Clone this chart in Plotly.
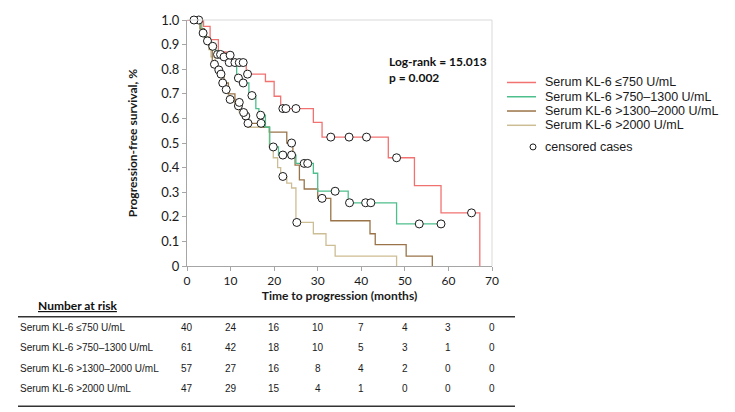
import plotly.graph_objects as go

# ---------------- data ----------------
groups = ["Serum KL-6 ≤750 U/mL", "Serum KL-6 >750–1300 U/mL",
          "Serum KL-6 >1300–2000 U/mL", "Serum KL-6 >2000 U/mL"]
colors = ["#f27272", "#4dbf8c", "#9a7448", "#cdbd94"]

x_ticks = [0, 10, 20, 30, 40, 50, 60, 70]
y_ticks = [0, 0.1, 0.2, 0.3, 0.4, 0.5, 0.6, 0.7, 0.8, 0.9, 1.0]
y_tick_labels = ["0", "0.1", "0.2", "0.3", "0.4", "0.5", "0.6", "0.7", "0.8", "0.9", "1.0"]

# KL-6 <=750
red_t = [0, 3.8, 5.3, 7.2, 9.0, 10.4, 13.6, 18.0, 20.0, 21.5, 29.0, 31.0, 46.2, 52.2, 58.3, 67.2]
red_s = [1.0, 0.974, 0.92, 0.87, 0.857, 0.827, 0.78, 0.75, 0.69, 0.64, 0.584, 0.524, 0.44, 0.327, 0.216, 0.0]
red_cens = [1.6, 9.9, 11.0, 12.0, 12.9, 13.9, 22.0, 22.7, 25.0, 33.0, 37.2, 41.2, 48.1, 65.3]
red_end = 67.2

# KL-6 >750-1300
green_t = [0, 3.4, 4.4, 5.5, 6.6, 8.2, 9.2, 11.4, 12.4, 14.2, 15.8, 16.5, 18.0, 19.0, 21.0, 25.0, 29.0, 30.0, 37.0, 48.1]
green_s = [1.0, 0.947, 0.915, 0.893, 0.86, 0.85, 0.827, 0.764, 0.744, 0.693, 0.64, 0.613, 0.564, 0.484, 0.451, 0.417, 0.377, 0.304, 0.257, 0.171]
green_cens = [2.7, 3.7, 4.7, 5.9, 7.0, 7.7, 8.5, 9.7, 11.8, 12.9, 14.9, 16.9, 19.8, 22.0, 24.0, 26.9, 27.7, 34.0, 37.3, 41.0, 42.2, 53.3, 58.3]
green_end = 58.3

# KL-6 >1300-2000
brown_t = [0, 3.0, 4.0, 5.0, 5.8, 7.0, 7.5, 8.5, 9.5, 11.0, 12.5, 13.2, 13.6, 17.5, 18.9, 22.9, 24.3, 24.8, 25.8, 26.9, 30.0, 33.0, 42.0, 43.2, 50.3, 56.3]
brown_s = [1.0, 0.965, 0.93, 0.895, 0.82, 0.797, 0.78, 0.744, 0.70, 0.665, 0.624, 0.595, 0.58, 0.564, 0.544, 0.50, 0.45, 0.41, 0.35, 0.313, 0.275, 0.184, 0.131, 0.087, 0.04, 0.0]
brown_cens = [6.3, 7.3, 7.8, 12.0, 13.0, 14.0, 17.0, 24.0, 31.0]
brown_end = 56.3

# KL-6 >2000
tan_t = [0, 3.0, 4.0, 5.0, 5.5, 6.5, 7.3, 8.0, 8.8, 9.5, 11.0, 12.0, 12.8, 14.0, 18.9, 19.8, 20.8, 21.5, 22.9, 24.0, 25.0, 29.0, 31.9, 34.0, 48.1]
tan_s = [1.0, 0.96, 0.93, 0.88, 0.85, 0.80, 0.77, 0.744, 0.717, 0.677, 0.651, 0.624, 0.61, 0.564, 0.484, 0.44, 0.40, 0.364, 0.337, 0.317, 0.177, 0.131, 0.084, 0.04, 0.0]
tan_cens = [8.2, 9.0, 9.9, 11.8, 13.5, 22.0, 25.2]
tan_end = 48.1

# number at risk
risk_times = [0, 10, 20, 30, 40, 50, 60, 70]
risk_red = [40, 24, 16, 10, 7, 4, 3, 0]
risk_green = [61, 42, 18, 10, 5, 3, 1, 0]
risk_brown = [57, 27, 16, 8, 4, 2, 0, 0]
risk_tan = [47, 29, 15, 4, 1, 0, 0, 0]

log_rank_text = "Log-rank = 15.013"
p_text = "p = 0.002"

# ---------------- helpers ----------------
def surv_at(ts, ss, t):
    v = ss[0]
    for ti, si in zip(ts, ss):
        if ti <= t:
            v = si
    return v

series = [
    (red_t, red_s, red_cens, red_end),
    (green_t, green_s, green_cens, green_end),
    (brown_t, brown_s, brown_cens, brown_end),
    (tan_t, tan_s, tan_cens, tan_end),
]
risks = [risk_red, risk_green, risk_brown, risk_tan]

fig = go.Figure()

for idx in [3, 2, 1, 0]:
    ts, ss, cens, end = series[idx]
    xs = list(ts) + [end]
    ys = list(ss) + [ss[-1]]
    fig.add_trace(go.Scatter(x=xs, y=ys, mode="lines", line_shape="hv",
                             line=dict(color=colors[idx], width=1.3),
                             name=groups[idx], cliponaxis=False, showlegend=False))

for idx in [3, 2, 1, 0]:
    ts, ss, cens, end = series[idx]
    cy = [surv_at(ts, ss, c) for c in cens]
    fig.add_trace(go.Scatter(x=cens, y=cy, mode="markers",
                             marker=dict(symbol="circle", size=8, color="white",
                                         line=dict(color="#1a1a1a", width=1)),
                             cliponaxis=False, showlegend=False))

axis_font = dict(family="Lato, Carlito, sans-serif", size=12, color="#1a1a1a")

fig.update_layout(
    width=735, height=412,
    margin=dict(l=187, r=243, t=16, b=146),
    plot_bgcolor="white", paper_bgcolor="white",
    showlegend=False,
    xaxis=dict(range=[0, 70], tickvals=x_ticks, ticks="outside", ticklen=4,
               tickcolor="#a6a6a6", showline=True, linecolor="#a6a6a6", linewidth=1,
               showgrid=False, zeroline=False, tickfont=axis_font,
               title=dict(text="<b>Time to progression (months)</b>", font=axis_font, standoff=3)),
    yaxis=dict(range=[0, 1], tickvals=y_ticks, ticktext=y_tick_labels, ticks="outside",
               ticklen=4, tickcolor="#a6a6a6", showline=True, linecolor="#a6a6a6",
               linewidth=1, showgrid=False, zeroline=False,
               tickfont=dict(family="Lato, sans-serif", size=13, color="#1a1a1a"),
               title=dict(text="<b>Progression-free survival, %</b>", font=axis_font, standoff=21)),
)

shapes = []
shapes.append(dict(type="line", xref="paper", yref="paper", x0=0, x1=1, y0=1, y1=1,
                   line=dict(color="#d9d9d9", width=1)))
shapes.append(dict(type="line", xref="paper", yref="paper", x0=1, x1=1, y0=0, y1=1,
                   line=dict(color="#d9d9d9", width=1)))

ann = []
ann.append(dict(text="<b>" + log_rank_text + "</b>", xref="paper", yref="paper",
                x=0.656, y=0.832, xanchor="left", yanchor="middle", showarrow=False,
                font=dict(family="Lato, sans-serif", size=12, color="#111")))
ann.append(dict(text="<b>" + p_text + "</b>", xref="paper", yref="paper",
                x=0.656, y=0.768, xanchor="left", yanchor="middle", showarrow=False,
                font=dict(family="Lato, sans-serif", size=12, color="#111")))

# legend (manual)
leg_font = dict(family="Liberation Sans, Arial, sans-serif", size=12.5, color="#1a1a1a")
leg_rows_px = [79.5, 94.0, 108.5, 123.0]
for i, g in enumerate(groups):
    yp = (266 - leg_rows_px[i]) / 250
    shapes.append(dict(type="line", xref="paper", yref="paper",
                       x0=(507 - 187) / 305, x1=(536 - 187) / 305, y0=yp, y1=yp,
                       line=dict(color=colors[i], width=1.5)))
    ann.append(dict(text=g, xref="paper", yref="paper", x=(544 - 187) / 305, y=yp,
                    xanchor="left", yanchor="middle", showarrow=False, font=leg_font,
                    borderpad=0))
cy_p = (266 - 145) / 250
cx_p = (533 - 187) / 305
shapes.append(dict(type="circle", xref="paper", yref="paper", xsizemode="pixel", ysizemode="pixel",
                   xanchor=cx_p, yanchor=cy_p, x0=-3, x1=3, y0=-3, y1=3,
                   line=dict(color="#1a1a1a", width=1), fillcolor="white"))
ann.append(dict(text="censored cases", xref="paper", yref="paper", x=(544 - 187) / 305, y=cy_p,
                xanchor="left", yanchor="middle", showarrow=False, font=leg_font, borderpad=0))

# number at risk table
tab_font = dict(family="Liberation Sans, Arial, sans-serif", size=10, color="#1a1a1a")
ann.append(dict(text="<b><u>Number at risk</u></b>", xref="paper", yref="paper",
                x=(36 - 187) / 305, y=(266 - 306.5) / 250, xanchor="left", yanchor="middle",
                showarrow=False, font=dict(family="Lato, sans-serif", size=12, color="#111")))
shapes.append(dict(type="line", xref="paper", yref="paper", x0=(18 - 187) / 305, x1=(515 - 187) / 305,
                   y0=(266 - 317.5) / 250, y1=(266 - 317.5) / 250, line=dict(color="#333", width=1.5)))
shapes.append(dict(type="line", xref="paper", yref="paper", x0=(18 - 187) / 305, x1=(515 - 187) / 305,
                   y0=(266 - 408.5) / 250, y1=(266 - 408.5) / 250, line=dict(color="#333", width=1.5)))
row_px = [328.5, 349.3, 370, 390.5]
for i, g in enumerate(groups):
    yp = (266 - row_px[i]) / 250
    ann.append(dict(text=g, xref="paper", yref="paper", x=(18 - 187) / 305, y=yp,
                    xanchor="left", yanchor="middle", showarrow=False, font=tab_font))
    for t, n in zip(risk_times, risks[i]):
        ann.append(dict(text=str(n), xref="x", yref="paper", x=t, y=yp,
                        xanchor="center", yanchor="middle", showarrow=False, font=tab_font))

fig.update_layout(shapes=shapes, annotations=ann)
# remove the default page margin so the 735x412 figure fills the window exactly
fig.write_html("out.html", config={"displayModeBar": False},
               post_script="document.body.style.margin='0';document.body.style.overflow='hidden';")
